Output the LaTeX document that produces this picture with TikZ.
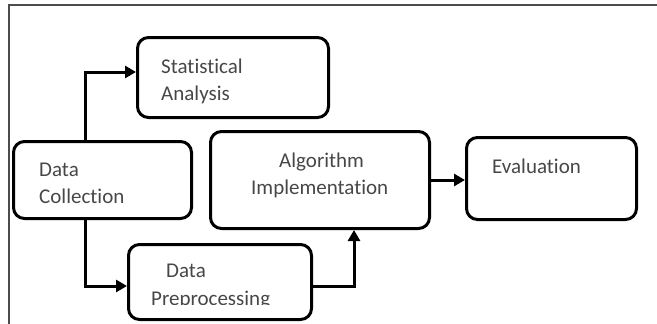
\documentclass[tikz,border=0pt]{standalone}
\usepackage{fontspec}
\setmainfont[Ligatures=NoCommon]{Carlito}
\usetikzlibrary{arrows.meta}
\begin{document}
\begin{tikzpicture}[x=1pt,y=-1pt,
  box/.style={draw=black, line width=3pt, rounded corners=11pt, inner sep=0pt},
  lbl/.style={anchor=base west, inner sep=0pt, text=black!72, font=\fontsize{21}{27}\selectfont},
  arr/.style={line width=3pt, -{Triangle[length=11pt,width=12pt]}},
  frameline/.style={draw=black!70, line width=1.2pt}]
\useasboundingbox (0,0) rectangle (657,324);
% frame
\coordinate (ftl) at (9,5);
\coordinate (ftr) at (657,5);
\coordinate (fbl) at (9,324);
\draw[frameline] (ftr) -- (ftl) -- (fbl);
% boxes
\node[box, minimum width=191pt, minimum height=80pt] (stat) at (233,77.5) {};
\node[box, minimum width=178pt, minimum height=77pt] (coll) at (102.5,180) {};
\node[box, minimum width=219pt, minimum height=97pt] (alg) at (320,180) {};
\node[box, minimum width=170pt, minimum height=82pt] (eval) at (551.5,178.5) {};
\node[box, minimum width=183pt, minimum height=75pt] (prep) at (220,282) {};
% labels
\node[lbl] (t1) at (161,74) {Statistical};
\node[lbl] (t2) at (161,100) {Analysis};
\node[lbl] (t3) at (39,176) {Data};
\node[lbl] (t4) at (39,203) {Collection};
\node[lbl] (t5) at (279,167) {Algorithm};
\node[lbl] (t6) at (251,194) {Implementation};
\node[lbl] (t7) at (492,173) {Evaluation};
\node[lbl] (t8) at (166,277) {Data};
\begin{scope}
  \clip (130,250) rectangle (310,304);
  \node[lbl] (t9) at (151,305) {Preprocessing};
\end{scope}
% connectors
\draw[arr] ([xshift=-17.5pt]coll.north) |- ([yshift=5.5pt]stat.west);
\draw[arr] ([xshift=-17.5pt]coll.south) |- ([yshift=-4pt]prep.west);
\draw[arr] ([yshift=-4pt]prep.east) -| ([xshift=34pt]alg.south);
\draw[arr] (alg.east) -- (eval.west |- alg.east);
\end{tikzpicture}
\end{document}
